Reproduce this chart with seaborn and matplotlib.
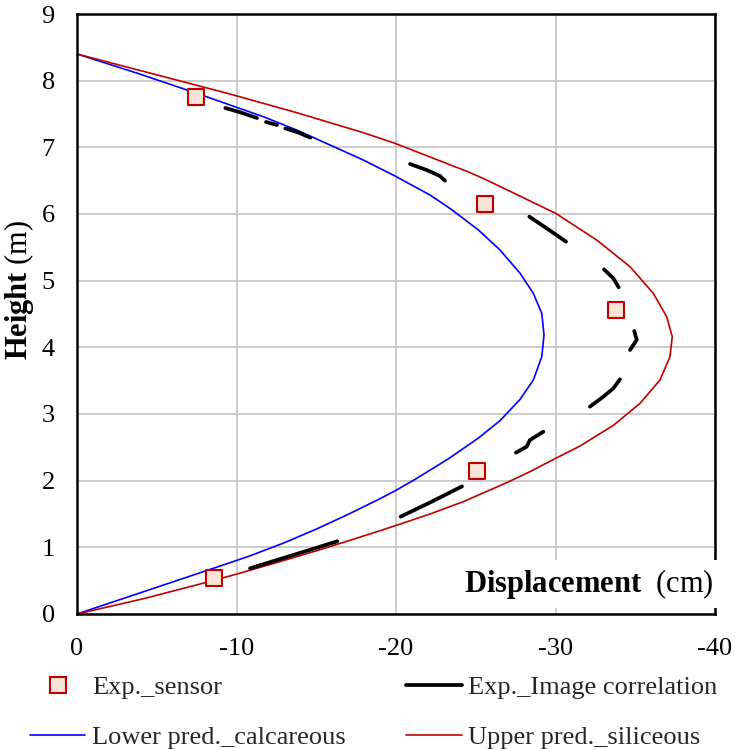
import numpy as np
import pandas as pd
import seaborn as sns
import matplotlib.pyplot as plt
from matplotlib.lines import Line2D

# values (displacement in cm, negative to the right)
lower_height = [0.0, 0.335, 0.67, 0.805, 0.873, 1.062, 1.276, 1.507, 1.73, 1.85, 2.02, 2.33,
                2.64, 2.9, 3.22, 3.51, 3.86, 4.185, 4.51, 4.81, 5.11, 5.46, 5.76, 6.085,
                6.285, 6.57, 6.81, 7.035, 7.26, 7.46, 7.635, 7.81, 8.11, 8.4]
lower_disp = [0.0, -4.18, -8.36, -10.03, -10.85, -12.93, -15.03, -17.11, -19.0, -19.96,
              -21.2, -23.3, -25.17, -26.52, -27.78, -28.61, -29.14, -29.28, -29.14, -28.61,
              -27.78, -26.52, -25.17, -23.38, -22.13, -19.94, -17.95, -15.86, -13.77, -11.68,
              -9.59, -7.52, -3.8, 0.0]

upper_height = [0.0, 0.23, 0.49, 0.6, 0.8, 0.95, 1.105, 1.25, 1.325, 1.5, 1.685, 1.97,
                2.135, 2.33, 2.52, 2.83, 3.16, 3.51, 3.86, 4.16, 4.46, 4.81, 5.21, 5.61, 6.01,
                6.51, 6.635, 6.835, 7.06, 7.22, 7.52, 7.8, 8.1, 8.4]
upper_disp = [0.0, -4.18, -8.36, -10.03, -12.93, -15.03, -17.11, -19.0, -19.96, -22.13,
              -24.22, -26.94, -28.4, -29.97, -31.54, -33.63, -35.3, -36.55, -37.18, -37.32,
              -36.97, -36.13, -34.67, -32.58, -30.01, -25.68, -24.5, -22.35, -19.94, -17.95,
              -13.77, -9.59, -4.8, 0.0]

sensor_disp = [-7.47, -25.56, -33.77, -25.06, -8.6]
sensor_height = [7.76, 6.15, 4.56, 2.15, 0.54]

# image correlation traces, one id per piece
img_seg = [1, 1, 1, 2, 2, 3, 3, 3,
           4, 4, 4, 4, 5, 5, 5, 6, 6, 6,
           7, 7, 7, 8, 8, 8, 8, 9, 9, 9, 9,
           10, 10, 10, 11, 11, 11]
img_disp = [-9.3, -10.3, -11.29, -11.85, -12.54, -13.06, -13.9, -14.63,
            -20.88, -21.92, -22.76, -23.07, -28.36, -29.45, -30.66, -33.04, -33.63, -33.96,
            -34.94, -35.09, -34.67, -34.04, -33.63, -33.0, -32.16, -29.24, -28.4, -28.19, -27.52,
            -24.14, -22.24, -20.29, -10.85, -13.56, -16.32]
img_height = [7.59, 7.52, 7.44, 7.38, 7.335, 7.285, 7.22, 7.145,
              6.75, 6.66, 6.57, 6.5, 5.96, 5.785, 5.585, 5.17, 5.035, 4.9,
              4.245, 4.11, 3.96, 3.52, 3.385, 3.26, 3.11, 2.735, 2.61, 2.51, 2.42,
              1.915, 1.685, 1.46, 0.685, 0.885, 1.09]

x_ticks = [0, -10, -20, -30, -40]
y_ticks = list(range(0, 10))

BLUE = "#0000FF"
RED = "#C00000"
FILL = "#FBE3D5"

sns.set_theme(style="white")
plt.rcParams["font.family"] = ["Liberation Serif", "DejaVu Serif"]
plt.rcParams["mathtext.fontset"] = "custom"
plt.rcParams["mathtext.rm"] = "Liberation Serif"
plt.rcParams["mathtext.bf"] = "Liberation Serif:bold"
plt.rcParams["axes.unicode_minus"] = False

lower_df = pd.DataFrame({"disp": lower_disp, "height": lower_height})
upper_df = pd.DataFrame({"disp": upper_disp, "height": upper_height})
sensor_df = pd.DataFrame({"disp": sensor_disp, "height": sensor_height})
img_df = pd.DataFrame({"seg": img_seg, "disp": img_disp, "height": img_height})

fig = plt.figure(figsize=(7.35, 7.49), dpi=100)
ax = fig.add_axes([77 / 735, 1 - 614 / 749, 638 / 735, 600 / 749])

ax.grid(True, color="#C8C8C8", linewidth=1.3)
ax.set_axisbelow(True)

sns.lineplot(data=lower_df, x="disp", y="height", sort=False, estimator=None,
             color=BLUE, linewidth=1.2, ax=ax)
sns.lineplot(data=upper_df, x="disp", y="height", sort=False, estimator=None,
             color=RED, linewidth=1.2, ax=ax)
sns.lineplot(data=img_df, x="disp", y="height", units="seg", sort=False, estimator=None,
             color="black", linewidth=2.7, solid_capstyle="round", ax=ax)
sns.scatterplot(data=sensor_df, x="disp", y="height", marker="s", s=140,
                color=FILL, edgecolor=RED, linewidth=1.5, zorder=5, ax=ax)

ax.set_xlim(0, -40)
ax.set_ylim(0, 9)
ax.set_xticks(x_ticks)
ax.set_yticks(y_ticks)
ax.tick_params(axis="both", length=0, labelsize=19, colors="black")
ax.tick_params(axis="x", pad=17)
ax.tick_params(axis="y", pad=16)
for sp in ax.spines.values():
    sp.set_color("black")
    sp.set_linewidth(1.8)

ax.set_xlabel("")
ax.set_ylabel(r"$\mathbf{Height}$ (m)", fontsize=22, color="black", va="center")
ax.yaxis.set_label_coords(-0.091, 0.54)

ax.text(0.998, 0.05, r"$\mathbf{Displacement}$  (cm)", transform=ax.transAxes,
        ha="right", va="center", fontsize=22, color="black", zorder=6,
        bbox=dict(facecolor="white", edgecolor="none", pad=5))

handles = [
    Line2D([], [], linestyle="none", marker="s", markersize=11,
           markerfacecolor=FILL, markeredgecolor=RED, markeredgewidth=1.5),
    Line2D([], [], color=BLUE, linewidth=1.2),
    Line2D([], [], color="black", linewidth=2.7),
    Line2D([], [], color=RED, linewidth=1.2),
]
labels = ["Exp._sensor", "Lower pred._calcareous",
          "Exp._Image correlation", "Upper pred._siliceous"]
fig.legend(handles, labels, loc="upper left", bbox_to_anchor=(30 / 735, 1 - 676 / 749),
           ncol=2, frameon=False, fontsize=19, borderpad=0, borderaxespad=0,
           handlelength=2.1, handletextpad=0.25, columnspacing=2.3, labelspacing=1.0)

fig.savefig("out.png", dpi=100)
